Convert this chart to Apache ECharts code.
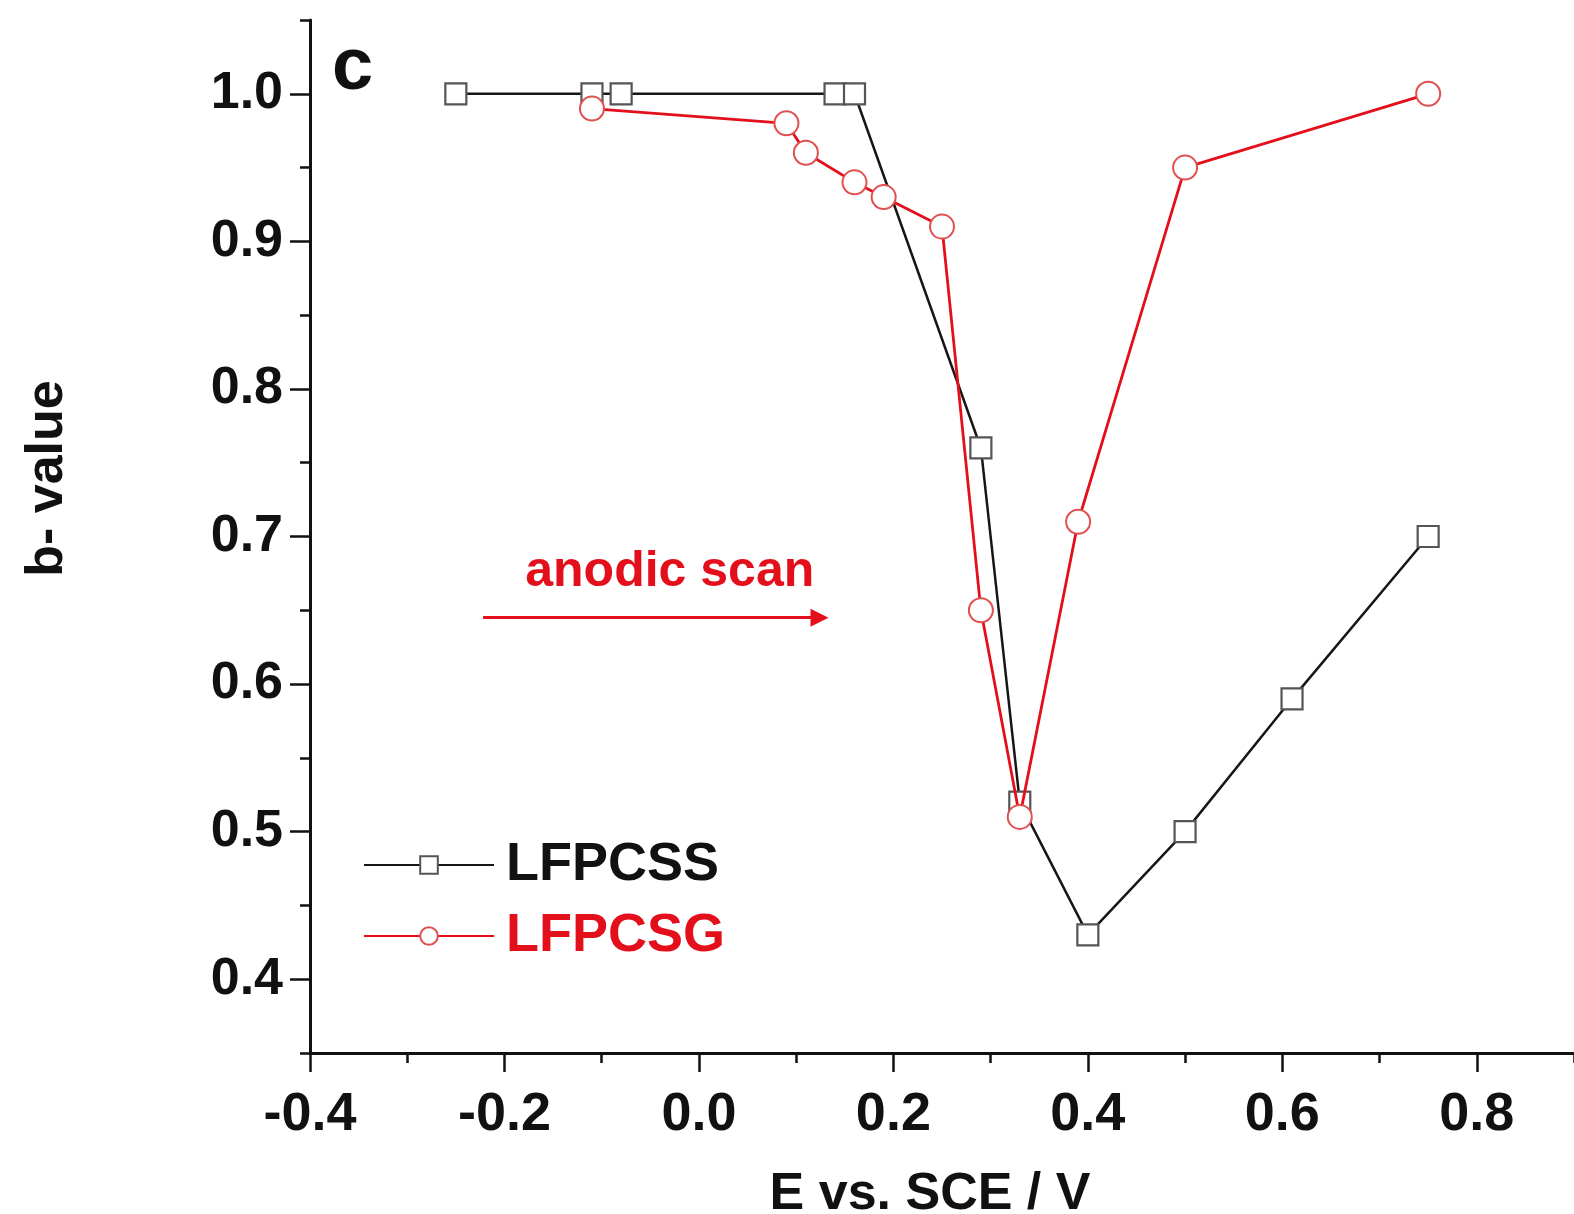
<!DOCTYPE html>
<html>
<head>
<meta charset="utf-8">
<script src="https://cdn.jsdelivr.net/npm/echarts@6/dist/echarts.min.js"></script>
<style>
html,body{margin:0;padding:0;background:#fff;}
#chart{width:1574px;height:1214px;}
</style>
</head>
<body>
<div id="chart"></div>
<script>
// ---- data ----
const lfpcssX = [-0.25, -0.11, -0.08, 0.14, 0.16, 0.29, 0.33, 0.40, 0.50, 0.61, 0.75];
const lfpcssY = [1.00, 1.00, 1.00, 1.00, 1.00, 0.76, 0.52, 0.43, 0.50, 0.59, 0.70];
const lfpcsgX = [-0.11, 0.09, 0.11, 0.16, 0.19, 0.25, 0.29, 0.33, 0.39, 0.50, 0.75];
const lfpcsgY = [0.99, 0.98, 0.96, 0.94, 0.93, 0.91, 0.65, 0.51, 0.71, 0.95, 1.00];
const xMajorTicks = [-0.4, -0.2, 0.0, 0.2, 0.4, 0.6, 0.8];
const xMinorTicks = [-0.3, -0.1, 0.1, 0.3, 0.5, 0.7, 0.9];
const yMajorTicks = [0.4, 0.5, 0.6, 0.7, 0.8, 0.9, 1.0];
const yMinorTicks = [0.35, 0.45, 0.55, 0.65, 0.75, 0.85, 0.95, 1.05];
const seriesNames = ['LFPCSS', 'LFPCSG'];
// annotation anchors (data coordinates)
const arrowFrom = [-0.222, 0.645];
const arrowTo = [0.124, 0.645];
const noteAt = [-0.03, 0.676];
const noteText = 'anodic scan';
const panelLetter = 'c';

const zip = (xs, ys) => xs.map((x, i) => [x, ys[i]]);
const FONT = '"Liberation Sans", Arial, Helvetica, sans-serif';
const RED = '#e3101c';

const chart = echarts.init(document.getElementById('chart'), null, {renderer: 'canvas'});
const fmt = v => Number(v).toFixed(1);

const option = {
  backgroundColor: '#ffffff',
  animation: false,
  grid: {left: 310, right: 0, top: 20, bottom: 161, containLabel: false, outerBoundsMode: 'none'},
  legend: {
    orient: 'vertical',
    left: 358,
    top: 833,
    itemWidth: 130,
    itemHeight: 22,
    itemGap: 17,
    data: [
      {name: seriesNames[0], textStyle: {color: '#111111'}},
      {name: seriesNames[1], textStyle: {color: RED}}
    ],
    textStyle: {fontFamily: FONT, fontWeight: 'bold', fontSize: 54, padding: [0, 0, 0, 7]}
  },
  xAxis: [
    {
      type: 'value', min: -0.4, max: 0.9, position: 'bottom',
      name: 'E vs. SCE / V', nameLocation: 'middle', nameGap: 116,
      nameTextStyle: {fontFamily: FONT, fontWeight: 'bold', fontSize: 52, color: '#111', padding: [0, 24, 0, 0]},
      axisLine: {show: true, onZero: false, lineStyle: {color: '#111', width: 3}},
      axisTick: {show: true, inside: false, length: 19, lineStyle: {color: '#111', width: 2.5}, customValues: xMajorTicks},
      axisLabel: {show: true, margin: 35, fontFamily: FONT, fontWeight: 'bold', fontSize: 54, color: '#111', formatter: fmt, customValues: xMajorTicks},
      splitLine: {show: false}
    },
    {
      type: 'value', min: -0.4, max: 0.9, position: 'bottom',
      axisLine: {show: false, onZero: false},
      axisTick: {show: true, inside: false, length: 10, lineStyle: {color: '#111', width: 2.5}, customValues: xMinorTicks},
      axisLabel: {show: false},
      splitLine: {show: false}
    }
  ],
  yAxis: [
    {
      type: 'value', min: 0.35, max: 1.05, position: 'left',
      name: 'b- value', nameLocation: 'middle', nameGap: 236, nameRotate: 90,
      nameTextStyle: {fontFamily: FONT, fontWeight: 'bold', fontSize: 52, color: '#111', padding: [0, 0, 0, 116]},
      axisLine: {show: true, onZero: false, lineStyle: {color: '#111', width: 3}},
      axisTick: {show: true, inside: false, length: 20, lineStyle: {color: '#111', width: 2.5}, customValues: yMajorTicks},
      axisLabel: {show: true, margin: 27, fontFamily: FONT, fontWeight: 'bold', fontSize: 52, color: '#111', formatter: fmt, customValues: yMajorTicks},
      splitLine: {show: false}
    },
    {
      type: 'value', min: 0.35, max: 1.05, position: 'left', offset: 0,
      axisLine: {show: false, onZero: false},
      axisTick: {show: true, inside: false, length: 10, lineStyle: {color: '#111', width: 2.5}, customValues: yMinorTicks},
      axisLabel: {show: false},
      splitLine: {show: false}
    }
  ],
  graphic: [
    {type: 'text', left: 332, top: 32, style: {text: panelLetter, font: 'bold 74px ' + FONT, fill: '#111'}}
  ],
  series: [
    {
      name: seriesNames[0], type: 'line', xAxisIndex: 0, yAxisIndex: 0,
      data: zip(lfpcssX, lfpcssY),
      symbol: 'rect', symbolSize: 21,
      lineStyle: {color: '#161616', width: 2.5},
      itemStyle: {color: '#ffffff', borderColor: '#555555', borderWidth: 2.2},
      z: 2
    },
    {
      name: seriesNames[1], type: 'line', xAxisIndex: 0, yAxisIndex: 0,
      data: zip(lfpcsgX, lfpcsgY),
      symbol: 'circle', symbolSize: 24,
      lineStyle: {color: RED, width: 2.8},
      itemStyle: {color: '#ffffff', borderColor: '#e05050', borderWidth: 2},
      z: 3,
      markLine: {
        silent: true, animation: false,
        symbol: ['none', 'triangle'], symbolSize: 18,
        lineStyle: {color: RED, width: 3, type: 'solid'},
        label: {show: false},
        data: [[{coord: arrowFrom}, {coord: arrowTo}]]
      },
      markPoint: {
        silent: true, animation: false,
        data: [{
          coord: noteAt, symbol: 'circle', symbolSize: 0,
          label: {show: true, position: 'inside', formatter: noteText, fontFamily: FONT, fontWeight: 'bold', fontSize: 50, color: RED}
        }]
      }
    }
  ]
};
chart.setOption(option);
</script>
</body>
</html>
